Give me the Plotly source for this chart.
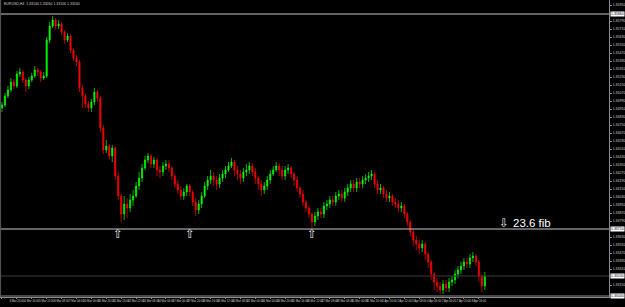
import plotly.graph_objects as go

# ---------------- data ----------------
first_open = 1.3492
closes = [1.3495, 1.3504, 1.3510, 1.3518, 1.3514, 1.3526, 1.3528, 1.3520, 1.3514, 1.3520,
          1.3524, 1.3530, 1.3528, 1.3522, 1.3524, 1.3560, 1.3574, 1.3580, 1.3574, 1.3576,
          1.3568, 1.3560, 1.3564, 1.3550, 1.3542, 1.3538, 1.3512, 1.3504, 1.3496, 1.3492,
          1.3498, 1.3508, 1.3502, 1.3472, 1.3450, 1.3454, 1.3444, 1.3452, 1.3424, 1.3404,
          1.3386, 1.3396, 1.3392, 1.3400, 1.3404, 1.3414, 1.3422, 1.3432, 1.3440, 1.3444,
          1.3436, 1.3440, 1.3430, 1.3428, 1.3434, 1.3436, 1.3432, 1.3424, 1.3416, 1.3410,
          1.3404, 1.3408, 1.3414, 1.3408, 1.3398, 1.3390, 1.3396, 1.3404, 1.3414, 1.3420,
          1.3424, 1.3420, 1.3416, 1.3422, 1.3426, 1.3430, 1.3434, 1.3438, 1.3430, 1.3426,
          1.3422, 1.3428, 1.3430, 1.3434, 1.3428, 1.3422, 1.3416, 1.3410, 1.3414, 1.3420,
          1.3426, 1.3430, 1.3434, 1.3430, 1.3424, 1.3430, 1.3432, 1.3426, 1.3420, 1.3412,
          1.3406, 1.3398, 1.3392, 1.3386, 1.3378, 1.3384, 1.3388, 1.3386, 1.3394, 1.3396,
          1.3400, 1.3398, 1.3404, 1.3406, 1.3402, 1.3408, 1.3412, 1.3416, 1.3412, 1.3418,
          1.3416, 1.3420, 1.3422, 1.3424, 1.3426, 1.3416, 1.3410, 1.3412, 1.3406, 1.3402,
          1.3404, 1.3398, 1.3396, 1.3392, 1.3394, 1.3386, 1.3378, 1.3368, 1.3360, 1.3356,
          1.3352, 1.3356, 1.3346, 1.3338, 1.3326, 1.3318, 1.3314, 1.3310, 1.3316, 1.3312,
          1.3318, 1.3320, 1.3326, 1.3330, 1.3334, 1.3338, 1.3336, 1.3342, 1.3344, 1.3338,
          1.3324, 1.3314, 1.3324]
highs = [1.3498, 1.3507, 1.3514, 1.3522, 1.3521, 1.3529, 1.3532, 1.3530, 1.3522, 1.3523,
         1.3527, 1.3534, 1.3532, 1.3530, 1.3528, 1.3563, 1.3578, 1.3584, 1.3582, 1.3580,
         1.3578, 1.3570, 1.3567, 1.3566, 1.3552, 1.3545, 1.3540, 1.3515, 1.3506, 1.3499,
         1.3501, 1.3512, 1.3510, 1.3504, 1.3475, 1.3460, 1.3456, 1.3455, 1.3454, 1.3428,
         1.3406, 1.3404, 1.3402, 1.3406, 1.3410, 1.3418, 1.3428, 1.3436, 1.3444, 1.3447,
         1.3446, 1.3443, 1.3442, 1.3434, 1.3438, 1.3440, 1.3440, 1.3434, 1.3426, 1.3420,
         1.3414, 1.3412, 1.3416, 1.3416, 1.3410, 1.3402, 1.3400, 1.3408, 1.3418, 1.3424,
         1.3430, 1.3428, 1.3424, 1.3426, 1.3430, 1.3434, 1.3438, 1.3442, 1.3440, 1.3434,
         1.3430, 1.3432, 1.3436, 1.3438, 1.3437, 1.3432, 1.3424, 1.3420, 1.3418, 1.3424,
         1.3430, 1.3434, 1.3438, 1.3437, 1.3434, 1.3434, 1.3436, 1.3434, 1.3428, 1.3424,
         1.3414, 1.3410, 1.3400, 1.3394, 1.3388, 1.3388, 1.3392, 1.3392, 1.3398, 1.3400,
         1.3404, 1.3404, 1.3408, 1.3410, 1.3410, 1.3412, 1.3416, 1.3420, 1.3420, 1.3422,
         1.3422, 1.3424, 1.3426, 1.3428, 1.3430, 1.3428, 1.3420, 1.3416, 1.3414, 1.3410,
         1.3408, 1.3406, 1.3402, 1.3400, 1.3398, 1.3396, 1.3388, 1.3380, 1.3370, 1.3364,
         1.3360, 1.3360, 1.3358, 1.3348, 1.3340, 1.3328, 1.3322, 1.3318, 1.3320, 1.3320,
         1.3322, 1.3324, 1.3330, 1.3334, 1.3338, 1.3342, 1.3342, 1.3346, 1.3348, 1.3346,
         1.3340, 1.3326, 1.3328]
lows = [1.3488, 1.3493, 1.3502, 1.3508, 1.3511, 1.3512, 1.3523, 1.3517, 1.3508, 1.3511,
        1.3518, 1.3522, 1.3524, 1.3518, 1.3520, 1.3522, 1.3557, 1.3572, 1.3570, 1.3571,
        1.3565, 1.3556, 1.3558, 1.3547, 1.3539, 1.3534, 1.3508, 1.3492, 1.3492, 1.3488,
        1.3488, 1.3495, 1.3498, 1.3468, 1.3446, 1.3447, 1.3440, 1.3438, 1.3420, 1.3400,
        1.3378, 1.3380, 1.3382, 1.3388, 1.3394, 1.3402, 1.3410, 1.3418, 1.3430, 1.3437,
        1.3432, 1.3432, 1.3424, 1.3422, 1.3424, 1.3430, 1.3428, 1.3420, 1.3412, 1.3406,
        1.3400, 1.3400, 1.3404, 1.3404, 1.3394, 1.3384, 1.3386, 1.3392, 1.3402, 1.3410,
        1.3416, 1.3414, 1.3410, 1.3412, 1.3418, 1.3422, 1.3428, 1.3432, 1.3424, 1.3420,
        1.3416, 1.3418, 1.3424, 1.3426, 1.3424, 1.3416, 1.3410, 1.3404, 1.3406, 1.3410,
        1.3416, 1.3424, 1.3428, 1.3424, 1.3420, 1.3420, 1.3426, 1.3422, 1.3414, 1.3408,
        1.3402, 1.3394, 1.3388, 1.3382, 1.3372, 1.3374, 1.3380, 1.3382, 1.3382, 1.3390,
        1.3392, 1.3394, 1.3394, 1.3400, 1.3398, 1.3398, 1.3404, 1.3408, 1.3408, 1.3408,
        1.3412, 1.3412, 1.3416, 1.3418, 1.3420, 1.3412, 1.3406, 1.3406, 1.3402, 1.3398,
        1.3398, 1.3394, 1.3392, 1.3388, 1.3388, 1.3382, 1.3374, 1.3364, 1.3354, 1.3350,
        1.3346, 1.3348, 1.3340, 1.3332, 1.3320, 1.3310, 1.3308, 1.3306, 1.3306, 1.3308,
        1.3308, 1.3314, 1.3316, 1.3322, 1.3326, 1.3330, 1.3332, 1.3332, 1.3338, 1.3334,
        1.3318, 1.3308, 1.3310]
# each bar opens where the previous one closed
opens = [first_open] + closes[:-1]

tick_idx = list(range(0, 161, 5))
tick_labels = ["3 Mar 2014", "3 Mar 20:00", "4 Mar 16:00", "5 Mar 12:00", "6 Mar 08:00", "7 Mar 04:00",
               "10 Mar 00:00", "10 Mar 20:00", "11 Mar 16:00", "12 Mar 12:00", "13 Mar 08:00", "14 Mar 04:00",
               "17 Mar 00:00", "17 Mar 20:00", "18 Mar 16:00", "19 Mar 12:00", "20 Mar 08:00", "21 Mar 04:00",
               "24 Mar 00:00", "24 Mar 20:00", "25 Mar 16:00", "26 Mar 12:00", "27 Mar 08:00", "28 Mar 04:00",
               "31 Mar 00:00", "31 Mar 20:00", "1 Apr 16:00", "2 Apr 12:00", "3 Apr 08:00", "4 Apr 04:00",
               "7 Apr 00:00", "7 Apr 20:00", "8 Apr 16:00"]

price_ticks = [1.3595, 1.3579, 1.3571, 1.3563, 1.3555, 1.3547, 1.3539, 1.3531, 1.3523, 1.3515,
               1.3507, 1.3499, 1.3491, 1.3483, 1.3475, 1.3467, 1.3459, 1.3451, 1.3443, 1.3435,
               1.3427, 1.3419, 1.3411, 1.3403, 1.3395, 1.3387, 1.3379, 1.3363, 1.3355, 1.3347,
               1.3339, 1.3331, 1.3315]

level_top = 1.3586
level_fib = 1.3371
level_bid = 1.3324
level_low = 1.3304
fib_label = "23.6 fib"
fib_label_idx = 170.7
fib_arrow_idx = 168.3
fib_text_price = 1.3377
up_arrow_idx = [39, 63, 104]
up_arrow_price = 1.3366
title_text = "EURUSD,H4  1.33140 1.33260 1.33100 1.33240"

y_min, y_max = 1.3303, 1.3600
x_min, x_max = -0.667, 203.667

# ---------------- figure ----------------
x = list(range(len(closes)))
fig = go.Figure()
fig.add_trace(go.Candlestick(
    x=x, open=opens, high=highs, low=lows, close=closes,
    increasing=dict(line=dict(color="#00ff00", width=0.7), fillcolor="#00ff00"),
    decreasing=dict(line=dict(color="#ff0000", width=0.7), fillcolor="#ff0000"),
    whiskerwidth=0, showlegend=False, hoverinfo="skip"))

shapes = []
for lvl, col in [(level_top, "#c8c8c8"), (level_fib, "#c8c8c8"),
                 (level_bid, "#3c3c3c"), (level_low, "#8c8c8c")]:
    shapes.append(dict(type="line", xref="paper", x0=0, x1=1, yref="y", y0=lvl, y1=lvl,
                       line=dict(color=col, width=1), layer="above"))
shapes.append(dict(type="line", xref="paper", x0=0.001, x1=0.001, yref="paper", y0=0, y1=1,
                   line=dict(color="#5a5a5a", width=1)))

annotations = []
for lvl in [level_top, level_fib, level_bid, level_low]:
    annotations.append(dict(xref="paper", x=1.0, xanchor="left", xshift=1, yref="y", y=lvl,
                            yanchor="middle", text=f"{lvl:.5f}", showarrow=False,
                            bgcolor="#ffffff", borderpad=0,
                            font=dict(size=3.5, color="#000000", family="Liberation Sans")))
annotations.append(dict(x=fib_label_idx, y=fib_text_price, xref="x", yref="y", xanchor="left",
                        yanchor="middle", text=fib_label, showarrow=False,
                        font=dict(size=11.5, color="#ffffff", family="Liberation Sans")))
annotations.append(dict(x=fib_arrow_idx, y=fib_text_price, xref="x", yref="y", xanchor="center",
                        yanchor="middle", text="\u21e9", showarrow=False,
                        font=dict(size=12, color="#e6e6e6", family="DejaVu Sans")))
for ix in up_arrow_idx:
    annotations.append(dict(x=ix, y=up_arrow_price, xref="x", yref="y", xanchor="center",
                            yanchor="middle", text="\u21e7", showarrow=False,
                            font=dict(size=12, color="#e6e6e6", family="DejaVu Sans")))
annotations.append(dict(xref="paper", yref="paper", x=0.003, y=1.0, xanchor="left", yanchor="top",
                        text=title_text, showarrow=False,
                        font=dict(size=3.5, color="#d0d0d0", family="Liberation Sans")))

fig.update_layout(
    width=625, height=307,
    margin=dict(l=0, r=12, t=0, b=10),
    paper_bgcolor="#000000", plot_bgcolor="#000000",
    boxgap=0.45,
    shapes=shapes, annotations=annotations,
    xaxis=dict(range=[x_min, x_max], rangeslider=dict(visible=False), showgrid=False,
               zeroline=False, showline=True, linecolor="#8c8c8c", linewidth=1,
               tickmode="array", tickvals=tick_idx, ticktext=tick_labels, tickangle=0,
               ticks="outside", ticklen=1, tickcolor="#8c8c8c",
               tickfont=dict(size=2.8, color="#d0d0d0", family="Liberation Sans")),
    yaxis=dict(range=[y_min, y_max], side="right", showgrid=False, zeroline=False,
               showline=True, linecolor="#8c8c8c", linewidth=1,
               tickmode="array", tickvals=price_ticks, tickformat=".5f",
               ticks="outside", ticklen=2, tickcolor="#8c8c8c",
               tickfont=dict(size=3.5, color="#d0d0d0", family="Liberation Sans")),
)

fig.write_html("out.html")
